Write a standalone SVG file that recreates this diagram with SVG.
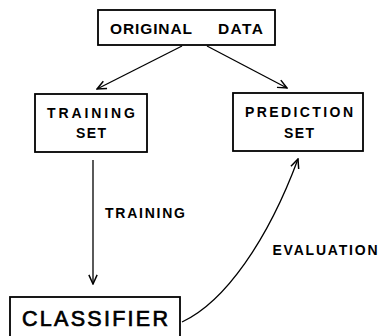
<svg xmlns="http://www.w3.org/2000/svg" width="381" height="336" viewBox="0 0 381 336">
  <style>
    .box { fill: #fff; stroke: #000; stroke-width: 1.8; }
    .lbl { font-family: "Liberation Sans", "DejaVu Sans", sans-serif; font-weight: bold; fill: #000; text-anchor: middle; }
    .big { font-weight: normal; stroke: #000; stroke-width: 0.7; }
    .edge { fill: none; stroke: #000; stroke-width: 1.3; marker-end: url(#arrow); }
  </style>
  <defs>
    <marker id="arrow" viewBox="0 0 12 12" refX="11" refY="6" markerWidth="11" markerHeight="11" markerUnits="userSpaceOnUse" orient="auto">
      <path d="M1,1.5 L11,6 L1,10.5" fill="none" stroke="#000" stroke-width="1.6"/>
    </marker>
  </defs>

  <rect width="381" height="336" fill="#fff"/>

  <g id="connectors">
    <path class="edge" d="M182,46 L97,89"/>
    <path class="edge" d="M207,46 L287,88"/>
    <path class="edge" d="M93,160 L93,284"/>
    <path class="edge" d="M182,322 C225,302 268,240 298,159"/>
  </g>

  <g id="original-data">
    <rect class="box" x="98" y="10" width="177" height="35"/>
    <text class="lbl" x="151" y="34" font-size="15.5" textLength="82" lengthAdjust="spacing">ORIGINAL</text>
    <text class="lbl" x="240.5" y="34" font-size="15.5" textLength="45" lengthAdjust="spacing">DATA</text>
  </g>

  <g id="training-set">
    <rect class="box" x="35" y="94" width="112" height="58"/>
    <text class="lbl" x="91" y="118" font-size="14" textLength="88" lengthAdjust="spacing">TRAINING</text>
    <text class="lbl" x="91" y="138" font-size="14" textLength="30" lengthAdjust="spacing">SET</text>
  </g>

  <g id="prediction-set">
    <rect class="box" x="233" y="93" width="130" height="58"/>
    <text class="lbl" x="299" y="117" font-size="14" textLength="108" lengthAdjust="spacing">PREDICTION</text>
    <text class="lbl" x="299" y="138" font-size="14" textLength="30" lengthAdjust="spacing">SET</text>
  </g>

  <g id="classifier">
    <rect class="box" x="10" y="297" width="170" height="50"/>
    <text class="lbl big" x="95" y="326" font-size="21.5" textLength="146" lengthAdjust="spacing">CLASSIFIER</text>
  </g>

  <g id="edge-labels">
    <text class="lbl" x="145" y="218" font-size="14" textLength="80" lengthAdjust="spacing">TRAINING</text>
    <text class="lbl" x="325" y="255" font-size="14" textLength="105" lengthAdjust="spacing">EVALUATION</text>
  </g>
</svg>
